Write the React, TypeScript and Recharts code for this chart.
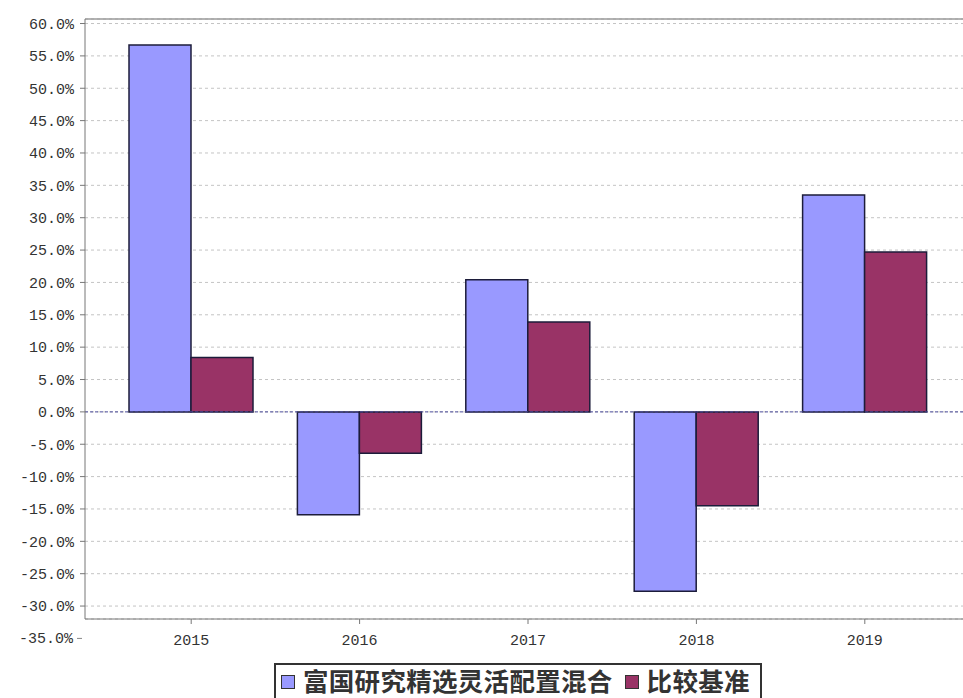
import { BarChart, Bar, XAxis, YAxis, CartesianGrid, ReferenceLine } from "recharts";

const years = ["2015", "2016", "2017", "2018", "2019"];
const fundReturns = [56.7, -15.9, 20.4, -27.7, 33.5];
const benchmarkReturns = [8.4, -6.4, 13.9, -14.5, 24.7];
const yTicks = [-30, -25, -20, -15, -10, -5, 0, 5, 10, 15, 20, 25, 30, 35, 40, 45, 50, 55, 60];

const fundName = "富国研究精选灵活配置混合";
const benchName = "比较基准";

const fundColor = "#9999ff";
const benchColor = "#993366";
const barStroke = "#1c1c3a";
const tickFont = "'Liberation Mono', 'DejaVu Sans Mono', monospace";

const data = years.map((y, i) => ({ year: y, fund: fundReturns[i], bench: benchmarkReturns[i] }));

const fmt = (v: number) => `${v.toFixed(1)}%`;

// label drawn below the plot for the -35% step, like the original chart
const BelowLabel = (props: any) => {
    const vb = props.viewBox;
    if (!vb) return null;
    return (
        <g>
            <text x={vb.x - 12} y={vb.y} dy={5} textAnchor="end" fontSize={15} fontFamily={tickFont} fill="#333">
                {fmt(-35)}
            </text>
            <line x1={vb.x - 8} x2={vb.x - 3} y1={vb.y} y2={vb.y} stroke="#888" />
        </g>
    );
};

function LegendBox() {
    return (
        <div
            style={{
                position: "absolute",
                left: 274,
                top: 663,
                width: 488,
                height: 36,
                border: "2px solid #333",
                borderBottom: "none",
                display: "flex",
                alignItems: "flex-start",
                paddingTop: 1,
                boxSizing: "border-box",
                fontFamily: "'Noto Sans CJK SC', sans-serif",
                fontWeight: 700,
                fontSize: 25.5,
                letterSpacing: 0.3,
                color: "#333",
                lineHeight: "28px",
                whiteSpace: "nowrap",
                zIndex: 2,
            }}
        >
            <span style={{ display: "inline-block", width: 12, height: 12, background: fundColor, border: "1.5px solid #333", margin: "9px 8px 0 5px" }} />
            <span>{fundName}</span>
            <span style={{ display: "inline-block", width: 12, height: 12, background: benchColor, border: "1.5px solid #333", margin: "9px 8px 0 12px" }} />
            <span>{benchName}</span>
        </div>
    );
}

export default function App() {
    return (
        <div style={{ position: "absolute", left: 0, top: 0, width: 963, height: 698, background: "#fff", overflow: "hidden" }}>
            <LegendBox />
            <div style={{ position: "absolute", left: 0, top: 0 }}>
                <BarChart
                    width={970}
                    height={698}
                    data={data}
                    margin={{ top: 19, right: 0, bottom: 39, left: 0 }}
                    barCategoryGap={22}
                    barGap={0}
                >
                    <CartesianGrid vertical={false} stroke="#c4c4c4" strokeDasharray="3 3" />
                    <XAxis
                        dataKey="year"
                        padding={{ left: 22, right: 21 }}
                        height={40}
                        stroke="#777"
                        tickSize={5}
                        tick={{ fontSize: 15, fontFamily: tickFont, fill: "#333" }}
                        tickMargin={10}
                    />
                    <YAxis
                        width={85}
                        domain={[-32, 60.7]}
                        ticks={yTicks}
                        allowDataOverflow
                        interval={0}
                        stroke="#777"
                        tickSize={5}
                        tickMargin={6}
                        tickFormatter={fmt}
                        tick={{ fontSize: 15, fontFamily: tickFont, fill: "#333" }}
                    />
                    <ReferenceLine y={60.7} stroke="#9a9a9a" strokeWidth={1.5} />
                    <ReferenceLine y={-35} ifOverflow="visible" stroke="none" label={<BelowLabel />} />
                    <Bar dataKey="fund" name={fundName} fill={fundColor} stroke={barStroke} strokeWidth={1.5} isAnimationActive={false} />
                    <Bar dataKey="bench" name={benchName} fill={benchColor} stroke={barStroke} strokeWidth={1.5} isAnimationActive={false} />
                    <ReferenceLine y={0} stroke="#4a4a9a" strokeDasharray="3 2" />
                </BarChart>
            </div>
        </div>
    );
}
